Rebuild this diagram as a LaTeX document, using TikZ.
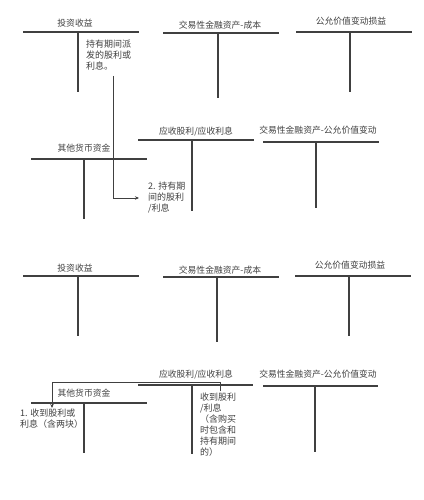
\documentclass[tikz,border=0pt]{standalone}
\usepackage{fontspec}
\setmainfont{Noto Sans CJK SC}
\usetikzlibrary{arrows.meta}
\begin{document}
\begin{tikzpicture}[x=1pt,y=-1pt,
  title/.style={font=\fontsize{8.8}{10}\selectfont, text=black!75, inner sep=0pt},
  note/.style={font=\fontsize{9}{11}\selectfont, text=black!75, inner sep=0pt, align=left, anchor=north west},
  acct/.style={draw=black!75, line width=1.1pt},
  conn/.style={draw=black!75, line width=0.9pt},
  tip/.style={-{Stealth[length=4pt,width=3.5pt]}}]
\fill[white] (0,0) rectangle (423,500);
\useasboundingbox (0,0) rectangle (423,500);
% ---------- top part ----------
\node[title] (a1) at (75,23) {投资收益};
\draw[acct] (23,32) -- (139,32); \draw[acct] (78,32) -- (78,92);
\node[title] (a2) at (220,25) {交易性金融资产-成本};
\draw[acct] (163,33) -- (279,33); \draw[acct] (218,33) -- (218,98);
\node[title] (a3) at (351,21) {公允价值变动损益};
\draw[acct] (296,32) -- (412,32); \draw[acct] (350,32) -- (350,92);
\node[title] (a4) at (196,132) {应收股利/应收利息};
\draw[acct] (138,140) -- (254,140); \draw[acct] (192,140) -- (192,211);
\node[title] (a5) at (318,130) {交易性金融资产-公允价值变动};
\draw[acct] (263,142) -- (379,142); \draw[acct] (316,142) -- (316,208);
\node[title] (a6) at (84,148) {其他货币资金};
\draw[acct] (31,159) -- (147,159); \draw[acct] (84,159) -- (84,219);
\node[note] (n1) at (86,40) {持有期间派\\发的股利或\\利息。};
\node[note] (n2) at (148,182) {2. 持有期\\间的股利\\/利息};
\coordinate (c1) at (113,76);
\coordinate (c2) at (113,198);
\coordinate (c3) at (139,198);
\draw[conn,tip] (c1) -- (c2) -- (c3);
% ---------- bottom part ----------
\node[title] (b1) at (75,268) {投资收益};
\draw[acct] (23,276) -- (139,276); \draw[acct] (78,276) -- (78,336);
\node[title] (b2) at (220,270) {交易性金融资产-成本};
\draw[acct] (163,277) -- (279,277); \draw[acct] (217,277) -- (217,342);
\node[title] (b3) at (350,265) {公允价值变动损益};
\draw[acct] (295,276) -- (411,276); \draw[acct] (349,276) -- (349,336);
\node[title] (b4) at (196,375) {应收股利/应收利息};
\draw[acct] (138,385) -- (253,385); \draw[acct] (192,385) -- (192,454);
\node[title] (b5) at (318,374) {交易性金融资产-公允价值变动};
\draw[acct] (263,386) -- (378,386); \draw[acct] (315,386) -- (315,452);
\node[title] (b6) at (84,393) {其他货币资金};
\draw[acct] (31,403) -- (147,403); \draw[acct] (84,403) -- (84,453);
\node[note] (m1) at (200,393) {收到股利\\/利息\\（含购买\\时包含和\\持有期间\\的）};
\node[note] (m2) at (20,409) {1. 收到股利或\\利息（含两块）};
\coordinate (d1) at (220,391);
\coordinate (d2) at (220,382);
\coordinate (d3) at (52,382);
\coordinate (d4) at (52,408);
\draw[conn,tip] (d1) -- (d2) -- (d3) -- (d4);
\end{tikzpicture}
\end{document}
